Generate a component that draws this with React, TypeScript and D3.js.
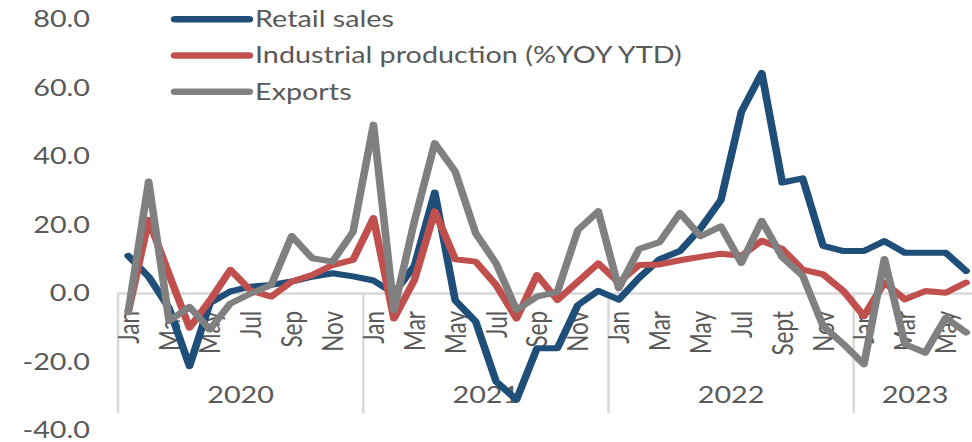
import React from "react";
import * as d3 from "d3";

// ---------- data ----------
const years = ["2020", "2021", "2022", "2023"];
const monthsPerYear = [12, 12, 12, 6];
const monthTickLabels = [
  ["Jan", "", "Mar", "", "May", "", "Jul", "", "Sep", "", "Nov", ""],
  ["Jan", "", "Mar", "", "May", "", "Jul", "", "Sep", "", "Nov", ""],
  ["Jan", "", "Mar", "", "May", "", "Jul", "", "Sept", "", "Nov", ""],
  ["Jan", "", "Mar", "", "May", ""],
];

const retailSales = [
  11.0, 4.9, -4.3, -21.2, -2.8, 0.6, 2.0, 2.5, 3.5, 4.9, 5.9, 5.0,
  3.8, 0.0, 8.0, 29.5, -2.0, -8.2, -25.7, -31.0, -16.0, -16.0, -3.4, 0.8,
  -1.8, 4.6, 10.0, 12.4, 19.0, 27.3, 53.0, 64.4, 32.4, 33.6, 13.9, 12.4,
  12.4, 15.3, 11.9, 11.9, 11.9, 6.6,
];
const industrialProduction = [
  -5.3, 21.5, 5.5, -10.0, -2.0, 6.9, 0.8, -0.9, 3.5, 5.4, 8.3, 9.8,
  22.0, -7.3, 3.9, 24.0, 10.0, 9.3, 2.5, -7.3, 5.4, -1.9, 3.4, 8.8,
  3.2, 8.3, 8.5, 9.7, 10.7, 11.6, 11.0, 15.4, 13.0, 7.0, 5.6, 0.7,
  -6.6, 3.2, -1.7, 0.7, 0.2, 3.2,
];
const exportsYoY = [
  -5.5, 32.7, -8.0, -3.9, -10.5, -2.9, 0.0, 2.5, 16.8, 10.3, 9.3, 18.0,
  49.3, -4.8, 21.0, 43.9, 35.6, 17.6, 8.8, -4.8, -0.9, 0.5, 18.5, 24.0,
  1.5, 13.0, 15.0, 23.5, 16.7, 19.6, 8.9, 21.2, 10.6, 5.2, -9.5, -14.8,
  -20.7, 10.1, -14.8, -17.3, -7.1, -11.4,
];
const seriesNames = ["Retail sales", "Industrial production (%YOY YTD)", "Exports"];
const yTicks = [80, 60, 40, 20, 0, -20, -40];

// ---------- layout ----------
const PX_W = 972;
const H = 442;
const W = 760; // internal width, stretched to 972 px
const FONT = "Lato, 'Open Sans', sans-serif";
const TEXT = "#595959";
const AXIS = "#d9d9d9";
const COLORS = ["#1F4E79", "#C0504D", "#808080"];

const N = retailSales.length;
const idx = d3.range(N);
const x = d3.scaleBand<number>().domain(idx).range([92.26, 92.26 + 15.98 * N]).padding(0);
const cx = (i: number) => (x(i) as number) + x.bandwidth() / 2;
const y = d3.scaleLinear().domain([-40, 80]).range([430.5, 19.5]);

const yearStart: number[] = [];
{
  let s = 0;
  monthsPerYear.forEach((m) => {
    yearStart.push(s);
    s += m;
  });
}

export default function App() {
  const line = d3
    .line<number>()
    .x((_, i) => cx(i))
    .y((d) => y(d));
  const allSeries = [retailSales, industrialProduction, exportsYoY];
  const y0 = y(0);
  const xEnd = 92.26 + 15.98 * N;

  return (
    <svg
      width={PX_W}
      height={H}
      viewBox={`0 0 ${W} ${H}`}
      preserveAspectRatio="none"
      style={{ position: "absolute", left: 0, top: 0, background: "#fff" }}
    >
      <rect x={0} y={0} width={W} height={H} fill="#fff" />
      {/* y labels */}
      {yTicks.map((t) => (
        <text
          key={t}
          x={70.4}
          y={y(t) + 8}
          textAnchor="end"
          fontFamily={FONT}
          fontSize={22.5}
          fill={TEXT}
        >
          {t.toFixed(1)}
        </text>
      ))}
      {/* axis line */}
      <line x1={92.26} x2={xEnd} y1={y0} y2={y0} stroke={AXIS} strokeWidth={2.5} />
      {/* group separators */}
      {[...yearStart, N].map((s) => (
        <line key={"sep" + s} x1={x(s) ?? xEnd} x2={x(s) ?? xEnd} y1={y0} y2={413} stroke={AXIS} strokeWidth={2} />
      ))}
      {/* month labels */}
      {years.map((yr, g) =>
        monthTickLabels[g].map((lab, m) => {
          if (!lab) return null;
          const i = yearStart[g] + m;
          return (
            <text
              key={yr + m}
              transform={`translate(${cx(i) + 8.2},311) rotate(-90)`}
              textAnchor="end"
              fontFamily={FONT}
              fontSize={22.5}
              fill={TEXT}
            >
              {lab}
            </text>
          );
        })
      )}
      {/* year labels */}
      {years.map((yr, g) => {
        const a = x(yearStart[g]) as number;
        const b = a + monthsPerYear[g] * x.bandwidth();
        return (
          <text
            key={yr}
            x={(a + b) / 2}
            y={403}
            textAnchor="middle"
            fontFamily={FONT}
            fontSize={22.5}
            fill={TEXT}
          >
            {yr}
          </text>
        );
      })}
      {/* series */}
      {allSeries.map((s, k) => (
        <path
          key={k}
          d={line(s) ?? ""}
          fill="none"
          stroke={COLORS[k]}
          strokeWidth={6}
          strokeLinejoin="round"
          strokeLinecap="round"
        />
      ))}
      {/* legend */}
      {seriesNames.map((name, k) => {
        const ly = 19.3 + k * 36.2;
        return (
          <g key={name}>
            <line x1={136.8} x2={194.7} y1={ly} y2={ly} stroke={COLORS[k]} strokeWidth={6.5} strokeLinecap="round" />
            <text x={199.4} y={ly + 8} fontFamily={FONT} fontSize={22.5} fill={TEXT}>
              {name}
            </text>
          </g>
        );
      })}
    </svg>
  );
}
